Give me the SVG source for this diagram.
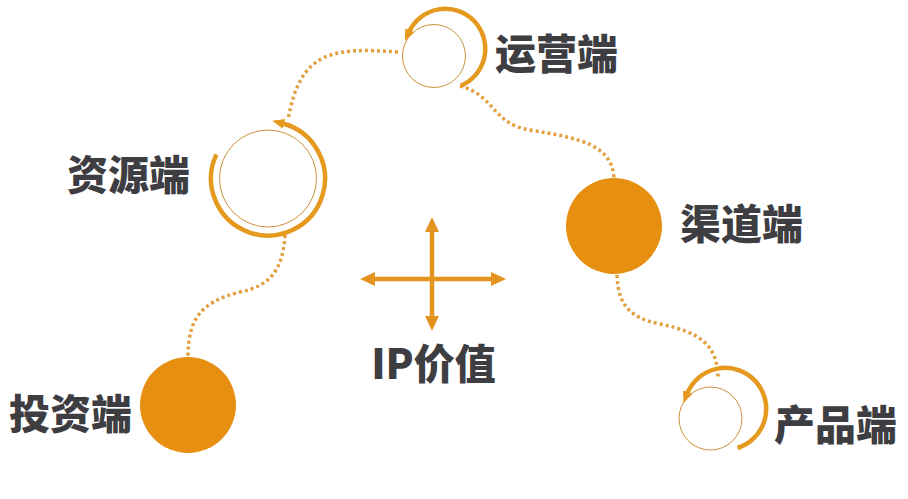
<svg xmlns="http://www.w3.org/2000/svg" width="908" height="499" viewBox="0 0 908 499">
<style>
.lbl{font-family:"Noto Sans CJK SC","Noto Sans",sans-serif;font-weight:900;font-size:41px;fill:#3d3d42}
.ring{fill:none;stroke:#C9913A;stroke-width:1}
.arc{fill:none;stroke:#E59A1F;stroke-width:4.5}
.fill{fill:#E78F10}
.dot{fill:none;stroke:#E3A040;stroke-width:3.5;stroke-dasharray:3 3}
.cross{fill:none;stroke:#E39420;stroke-width:4.5}
</style>
<defs>
<marker id="ah" markerUnits="userSpaceOnUse" markerWidth="12" markerHeight="10" refX="2" refY="5" orient="auto" viewBox="0 0 12 10">
<path d="M0,0 L12,5 L0,10 z" fill="#E59A1F"/>
</marker>
<marker id="ch" markerUnits="userSpaceOnUse" markerWidth="15" markerHeight="14" refX="0" refY="7" orient="auto-start-reverse" viewBox="0 0 15 14">
<path d="M0,0 L15,7 L0,14 z" fill="#E39420"/>
</marker>
</defs>
<rect width="908" height="499" fill="#ffffff"/>
<g id="connectors">
<path class="dot" d="M398,52 C330,47 300,52 288,120"/>
<path class="dot" d="M460,86 C495,95 492,124 530,130 C580,138 612,145 614,178"/>
<path class="dot" d="M285,235 C283,270 270,286 240,292 C200,302 188,320 188,357"/>
<path class="dot" d="M617,275 C618,305 630,318 660,324 C700,332 718,345 718,379"/>
<g id="cross">
<path class="cross" d="M432,232 L432,316" marker-start="url(#ch)" marker-end="url(#ch)"/>
<path class="cross" d="M375,279 L491,279" marker-start="url(#ch)" marker-end="url(#ch)"/>
</g>
</g>
<g id="node-yunying">
<circle class="ring" cx="434" cy="56" r="31.5"/>
<path class="arc" d="M460.8,85.7 A40,40 0 1 0 409,32" marker-end="url(#ah)"/>
<text class="lbl" x="495" y="69">运营端</text>
</g>
<g id="node-ziyuan">
<circle class="ring" cx="268" cy="178.5" r="48.5"/>
<path class="arc" d="M216.4,154.4 A57,57 0 1 0 282,123.3" marker-end="url(#ah)"/>
<text class="lbl" x="67" y="190">资源端</text>
</g>
<g id="node-qudao">
<circle class="fill" cx="614" cy="226" r="48"/>
<text class="lbl" x="680" y="239">渠道端</text>
</g>
<g id="node-touzi">
<circle class="fill" cx="188" cy="405" r="48"/>
<text class="lbl" x="9" y="429">投资端</text>
</g>
<g id="node-chanpin">
<circle class="ring" cx="710.5" cy="418.5" r="31.5"/>
<path class="arc" d="M737.5,448 A41,41 0 1 0 687,394" marker-end="url(#ah)"/>
<text class="lbl" x="774" y="440">产品端</text>
</g>
<g id="ip-value">
<text class="lbl" x="433.5" y="379" text-anchor="middle">IP价值</text>
</g>
</svg>
